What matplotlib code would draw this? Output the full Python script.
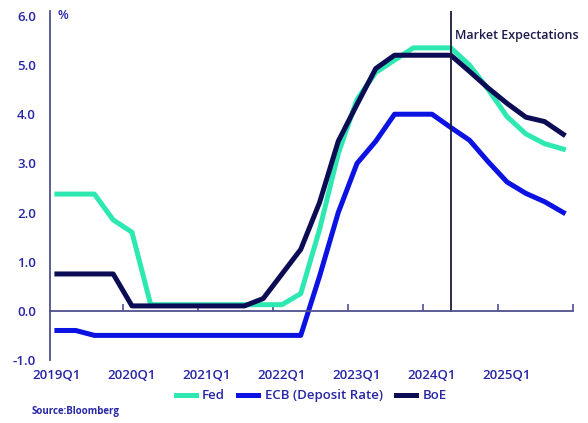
import matplotlib
matplotlib.use("Agg")
from matplotlib import pyplot as plt
import numpy as np

# quarterly policy rates, 2019Q1 .. 2025Q4 (market expectations from 2024Q2)
quarters = [f"{y}Q{q}" for y in range(2019, 2026) for q in range(1, 5)]
tick_labels = ["2019Q1", "2020Q1", "2021Q1", "2022Q1", "2023Q1", "2024Q1", "2025Q1"]

fed = [2.375, 2.375, 2.375, 1.85, 1.6, 0.125, 0.125, 0.125, 0.125, 0.125,
       0.125, 0.125, 0.125, 0.35, 1.65, 3.2, 4.3, 4.85, 5.1, 5.35,
       5.35, 5.35, 5.0, 4.5, 3.95, 3.6, 3.4, 3.29]
ecb = [-0.4, -0.4, -0.5, -0.5, -0.5, -0.5, -0.5, -0.5, -0.5, -0.5,
       -0.5, -0.5, -0.5, -0.5, 0.7, 2.0, 3.0, 3.45, 4.0, 4.0,
       4.0, 3.73, 3.47, 3.03, 2.62, 2.39, 2.22, 2.0]
boe = [0.75, 0.75, 0.75, 0.75, 0.1, 0.1, 0.1, 0.1, 0.1, 0.1,
       0.1, 0.25, 0.75, 1.25, 2.2, 3.45, 4.2, 4.93, 5.2, 5.2,
       5.2, 5.2, 4.87, 4.53, 4.22, 3.94, 3.85, 3.59]
expect_start = "2024Q2"

col_fed = "#2ee8b2"
col_ecb = "#0c12e2"
col_boe = "#0c0c55"
col_axis = "#50508f"
col_text = "#2626a6"

plt.rcParams['font.family'] = ['Open Sans', 'DejaVu Sans']

fig = plt.figure(figsize=(5.88, 4.23), dpi=100)
ax = fig.add_axes([0.085, 0.149, 0.889, 0.825])

x = np.arange(len(quarters))
ax.plot(x, fed, color=col_fed, lw=3.6, label="Fed")
ax.plot(x, ecb, color=col_ecb, lw=3.6, label="ECB (Deposit Rate)")
ax.plot(x, boe, color=col_boe, lw=3.6, label="BoE")

ax.set_xlim(-0.37, len(quarters) - 0.5)
ax.set_ylim(-1.0, 6.1)

# market expectations marker
xe = quarters.index(expect_start)
ax.axvline(xe, ymin=1.0 / 7.1, ymax=1.0, color="#1b1b3b", lw=1.3)
ax.text(xe + 0.25, 5.6, "Market Expectations", color="#1b1b4b",
        fontsize=9, fontweight="semibold", va="center", ha="left")

# spines
for s in ["top", "right"]:
    ax.spines[s].set_visible(False)
ax.spines["left"].set_color(col_axis)
ax.spines["left"].set_linewidth(1.3)
ax.spines["bottom"].set_position(("data", 0))
ax.spines["bottom"].set_color(col_axis)
ax.spines["bottom"].set_linewidth(1.3)

# y axis
yt = np.arange(-1, 7)
ax.set_yticks(yt)
ax.set_yticklabels([f"{v:.1f}" for v in yt])
ax.tick_params(axis="y", length=0, pad=10, labelsize=9.5, labelcolor=col_text)
for t in ax.get_yticklabels():
    t.set_fontweight("semibold")
ax.text(0.015, 6.0, "%", transform=ax.get_yaxis_transform(), color=col_text,
        fontsize=9, fontweight="semibold", va="center", ha="left")

# x axis: tick marks at year boundaries, labels at Q1
ax.set_xticks(np.arange(3.5, len(quarters), 4))
ax.set_xticklabels([])
ax.tick_params(axis="x", which="major", direction="in", length=5,
               width=1.2, color=col_axis)
ax.set_xticks([quarters.index(q) for q in tick_labels], minor=True)
ax.set_xticklabels(tick_labels, minor=True)
ax.tick_params(axis="x", which="minor", length=0, pad=42, labelsize=9.5,
               labelcolor=col_text)
for t in ax.get_xticklabels(minor=True):
    t.set_fontweight("semibold")

leg = fig.legend(loc="center", bbox_to_anchor=(0.529, 0.064), ncol=3,
                 frameon=False, fontsize=9.5, handlelength=1.5,
                 handletextpad=0.5, columnspacing=1.0)
for t in leg.get_texts():
    t.set_color(col_text)
    t.set_fontweight("semibold")

fig.text(0.053, 0.028, "Source:Bloomberg", color=col_text, fontsize=7,
         fontweight="bold", va="center", ha="left")

fig.savefig("out.png", dpi=100)
